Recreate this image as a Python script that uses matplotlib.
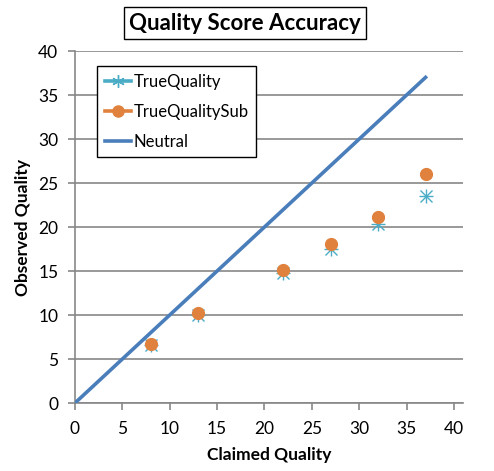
import matplotlib.pyplot as plt
from matplotlib.lines import Line2D

plt.rcParams['font.family'] = ['Lato', 'DejaVu Sans']

claimed = [8, 13, 22, 27, 32, 37]
true_quality = [6.6, 10.0, 14.8, 17.5, 20.3, 23.5]
true_quality_sub = [6.75, 10.25, 15.1, 18.1, 21.1, 26.05]
neutral_x = [0, 37]
neutral_y = [0, 37]

c_star = '#4BACC6'
c_dot = '#E0823D'
c_line = '#4A7EBB'

fig = plt.figure(figsize=(4.94, 4.71), dpi=100)
ax = fig.add_axes([75 / 494, 1 - 403 / 471, (463 - 75) / 494, (403 - 51) / 471])

ax.plot(neutral_x, neutral_y, color=c_line, lw=2.6, zorder=3)
ax.plot(claimed, true_quality, ls='none', marker='x', ms=8, mew=1.0, color=c_star, zorder=4)
ax.plot(claimed, true_quality, ls='none', marker='+', ms=10, mew=1.0, color=c_star, zorder=4)
ax.plot(claimed, true_quality_sub, ls='none', marker='o', ms=8.5, color=c_dot, zorder=5)

ax.set_xlim(0, 40.95)
ax.set_ylim(0, 40)
ax.set_xticks(range(0, 41, 5))
ax.set_yticks(range(0, 41, 5))
ax.grid(axis='y', color='#878787', lw=1.2)
ax.set_axisbelow(True)
for s in ['top', 'right']:
    ax.spines[s].set_visible(False)
for s in ['left', 'bottom']:
    ax.spines[s].set_color('#878787')
    ax.spines[s].set_linewidth(1.2)
ax.tick_params(colors='#878787', labelcolor='black', labelsize=12.5, length=5, width=1.2)
ax.tick_params(axis='x', pad=8)
ax.tick_params(axis='y', pad=7)

ax.set_xlabel('Claimed Quality', fontsize=12.5, fontweight='bold', labelpad=7)
ax.set_ylabel('Observed Quality', fontsize=12.5, fontweight='bold', labelpad=5)

fig.text(245 / 494, 1 - 23 / 471, 'Quality Score Accuracy', ha='center', va='center',
         fontsize=16, fontweight='bold',
         bbox=dict(boxstyle='square,pad=0.25', fc='white', ec='black', lw=1))

handles = [
    Line2D([], [], color=c_star, lw=2.6, marker=(6, 2, 0), ms=9, mew=1.0),
    Line2D([], [], color=c_dot, lw=2.6, marker='o', ms=8),
    Line2D([], [], color=c_line, lw=2.6),
]
leg = ax.legend(handles, ['TrueQuality', 'TrueQualitySub', 'Neutral'],
                loc='upper left', bbox_to_anchor=((97 - 75) / 388, (403 - 66) / 352),
                fontsize=12, frameon=True, fancybox=False, edgecolor='black',
                framealpha=1, borderpad=0.45, handlelength=1.6, handletextpad=0.15,
                labelspacing=0.85, borderaxespad=0)
leg.get_frame().set_linewidth(1)

fig.savefig('out.png', dpi=100)
